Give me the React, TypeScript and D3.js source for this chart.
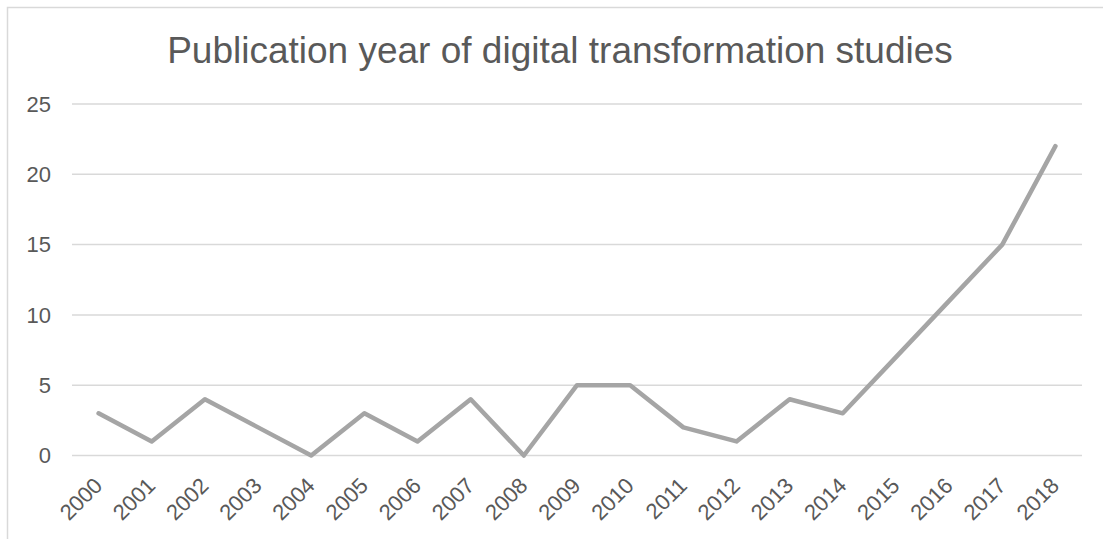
import React, { useEffect, useRef } from 'react';
import * as d3 from 'd3';

const years = ['2000', '2001', '2002', '2003', '2004', '2005', '2006', '2007', '2008', '2009',
  '2010', '2011', '2012', '2013', '2014', '2015', '2016', '2017', '2018'];
const studies = [3, 1, 4, 2, 0, 3, 1, 4, 0, 5, 5, 2, 1, 4, 3, 7, 11, 15, 22];
const yTicks = [0, 5, 10, 15, 20, 25];
const title = 'Publication year of digital transformation studies';

const App = () => {
  const ref = useRef<SVGSVGElement>(null);

  useEffect(() => {
    const width = 1103;
    const height = 539;
    const margin = { top: 104, right: 21, bottom: 83, left: 72 };
    const font = '"Liberation Sans", Arial, sans-serif';

    const svg = d3.select(ref.current);
    svg.selectAll('*').remove();

    // chart frame (only left/top edges are visible in the picture)
    svg.append('rect')
      .attr('x', 7.5)
      .attr('y', 7.5)
      .attr('width', width + 20)
      .attr('height', height + 20)
      .attr('fill', 'white')
      .attr('stroke', '#d9d9d9')
      .attr('stroke-width', 1.5);

    const xScale = d3.scaleBand()
      .domain(years)
      .range([margin.left, width - margin.right]);

    const yScale = d3.scaleLinear()
      .domain([0, 25])
      .range([height - margin.bottom - 0.5, margin.top]);

    // grid lines
    svg.append('g')
      .selectAll('line')
      .data(yTicks)
      .enter()
      .append('line')
      .attr('x1', margin.left)
      .attr('x2', width - margin.right)
      .attr('y1', d => yScale(d))
      .attr('y2', d => yScale(d))
      .attr('stroke', '#d9d9d9')
      .attr('stroke-width', 1.5);

    // y labels
    svg.append('g')
      .selectAll('text')
      .data(yTicks)
      .enter()
      .append('text')
      .attr('x', 51)
      .attr('y', d => yScale(d))
      .attr('dy', '0.35em')
      .attr('text-anchor', 'end')
      .style('font-family', font)
      .style('font-size', '22px')
      .style('fill', '#595959')
      .text(d => d);

    // x labels, rotated
    svg.append('g')
      .selectAll('text')
      .data(years)
      .enter()
      .append('text')
      .attr('transform', d => `translate(${xScale(d)! + xScale.bandwidth() / 2 + 5}, ${height - margin.bottom + 31}) rotate(-45)`)
      .attr('text-anchor', 'end')
      .style('font-family', font)
      .style('font-size', '22px')
      .style('fill', '#595959')
      .text(d => d);

    const line = d3.line<number>()
      .x((d, i) => xScale(years[i])! + xScale.bandwidth() / 2)
      .y(d => yScale(d));

    svg.append('path')
      .datum(studies)
      .attr('fill', 'none')
      .attr('stroke', '#a5a5a5')
      .attr('stroke-width', 4.5)
      .attr('stroke-linejoin', 'round')
      .attr('stroke-linecap', 'round')
      .attr('d', line);

    svg.append('text')
      .attr('x', 560)
      .attr('y', 63)
      .attr('text-anchor', 'middle')
      .style('font-family', font)
      .style('font-size', '37px')
      .style('fill', '#595959')
      .text(title);
  }, []);

  return (
    <svg ref={ref} width={1103} height={539}
      style={{ position: 'absolute', left: 0, top: 0, display: 'block', background: 'white' }} />
  );
};

export default App;
